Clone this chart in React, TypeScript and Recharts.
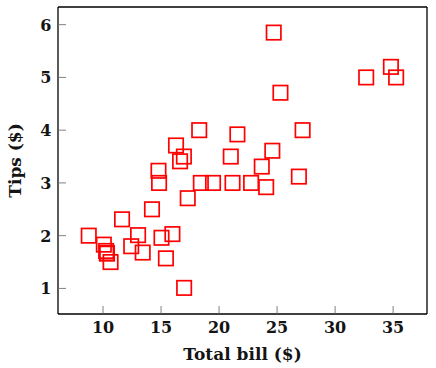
import React from 'react';
import { ScatterChart, Scatter, XAxis, YAxis } from 'recharts';

const totalBill = [
  8.77, 10.07, 10.27, 10.33, 10.34, 10.65, 11.64, 12.43, 13.02, 13.42,
  14.22, 14.78, 14.83, 15.04, 15.42, 15.98, 16.29, 16.64, 16.97, 16.99,
  17.3, 18.29, 18.43, 19.48, 21.01, 21.16, 21.58, 22.76, 23.68, 24.06,
  24.59, 24.71, 25.29, 26.88, 27.2, 32.68, 34.81, 35.26,
];
const tips = [
  2.0, 1.83, 1.71, 1.67, 1.66, 1.5, 2.31, 1.8, 2.01, 1.68,
  2.5, 3.23, 3.0, 1.96, 1.57, 2.03, 3.71, 3.41, 3.5, 1.01,
  2.71, 4.0, 3.0, 3.0, 3.5, 3.0, 3.92, 3.0, 3.31, 2.92,
  3.61, 5.85, 4.71, 3.12, 4.0, 5.0, 5.2, 5.0,
];
const xTicks = [10, 15, 20, 25, 30, 35];
const yTicks = [1, 2, 3, 4, 5, 6];
const xDomain: [number, number] = [6.12, 37.92];
const yDomain: [number, number] = [0.515, 6.335];

const data = totalBill.map((b, i) => ({ bill: b, tip: tips[i] }));

const FONT = "'DejaVu Serif', serif";
const TICK_COLOR = '#808080';
const TEXT_COLOR = '#141414';

const BottomTick = (p: any) => (
  <g>
    <line x1={p.x} y1={p.y - 0.6} x2={p.x} y2={p.y - 8} stroke={TICK_COLOR} strokeWidth={1} />
    <text x={p.x} y={p.y + 18.5} textAnchor="middle" fontFamily={FONT} fontWeight="bold" fontSize={16} fill={TEXT_COLOR}>
      {p.payload.value}
    </text>
  </g>
);
const TopTick = (p: any) => (
  <line x1={p.x} y1={p.y + 0.6} x2={p.x} y2={p.y + 8} stroke={TICK_COLOR} strokeWidth={1} />
);
const LeftTick = (p: any) => (
  <g>
    <line x1={p.x + 0.6} y1={p.y} x2={p.x + 8} y2={p.y} stroke={TICK_COLOR} strokeWidth={1} />
    <text x={p.x - 6.5} y={p.y + 6} textAnchor="end" fontFamily={FONT} fontWeight="bold" fontSize={16} fill={TEXT_COLOR}>
      {p.payload.value}
    </text>
  </g>
);
const RightTick = (p: any) => (
  <line x1={p.x - 0.6} y1={p.y} x2={p.x - 8} y2={p.y} stroke={TICK_COLOR} strokeWidth={1} />
);

const SquareMark = (p: any) => (
  <rect x={p.cx - 7.2} y={p.cy - 7.2} width={14.4} height={14.4} fill="none" stroke="#ff0000" strokeWidth={1.7} />
);

const XLabel = (p: any) => {
  const vb = p.viewBox;
  return (
    <text x={vb.x + vb.width / 2} y={vb.y + 46} textAnchor="middle" fontFamily={FONT} fontWeight="bold" fontSize={17} fill={TEXT_COLOR}>
      Total bill ($)
    </text>
  );
};
const YLabel = (p: any) => {
  const vb = p.viewBox;
  const x = vb.x + 21;
  const y = vb.y + vb.height / 2;
  return (
    <text x={x} y={y} transform={`rotate(-90, ${x}, ${y})`} textAnchor="middle" fontFamily={FONT} fontWeight="bold" fontSize={17} fill={TEXT_COLOR}>
      Tips ($)
    </text>
  );
};

export default function App() {
  return (
    <div style={{ position: 'absolute', left: 0, top: 0 }}>
      <ScatterChart width={436} height={368} margin={{ top: 6, right: 8, bottom: 0, left: 0 }}>
        <XAxis
          xAxisId="b"
          dataKey="bill"
          type="number"
          domain={xDomain}
          ticks={xTicks}
          height={54}
          orientation="bottom"
          axisLine={{ stroke: '#000', strokeWidth: 1.3 }}
          tickLine={false}
          tickSize={0}
          tickMargin={0}
          tick={<BottomTick />}
          interval={0}
          label={<XLabel />}
        />
        <XAxis
          xAxisId="t"
          dataKey="bill"
          type="number"
          domain={xDomain}
          ticks={xTicks}
          height={1}
          orientation="top"
          axisLine={{ stroke: '#000', strokeWidth: 1.3 }}
          tickLine={false}
          tickSize={0}
          tickMargin={0}
          tick={<TopTick />}
          interval={0}
        />
        <YAxis
          yAxisId="l"
          dataKey="tip"
          type="number"
          domain={yDomain}
          ticks={yTicks}
          width={58}
          orientation="left"
          axisLine={{ stroke: '#000', strokeWidth: 1.3 }}
          tickLine={false}
          tickSize={0}
          tickMargin={0}
          tick={<LeftTick />}
          interval={0}
          label={<YLabel />}
        />
        <YAxis
          yAxisId="r"
          dataKey="tip"
          type="number"
          domain={yDomain}
          ticks={yTicks}
          width={1}
          orientation="right"
          axisLine={{ stroke: '#000', strokeWidth: 1.3 }}
          tickLine={false}
          tickSize={0}
          tickMargin={0}
          tick={<RightTick />}
          interval={0}
        />
        <Scatter data={data} xAxisId="b" yAxisId="l" shape={SquareMark} isAnimationActive={false} />
      </ScatterChart>
    </div>
  );
}
